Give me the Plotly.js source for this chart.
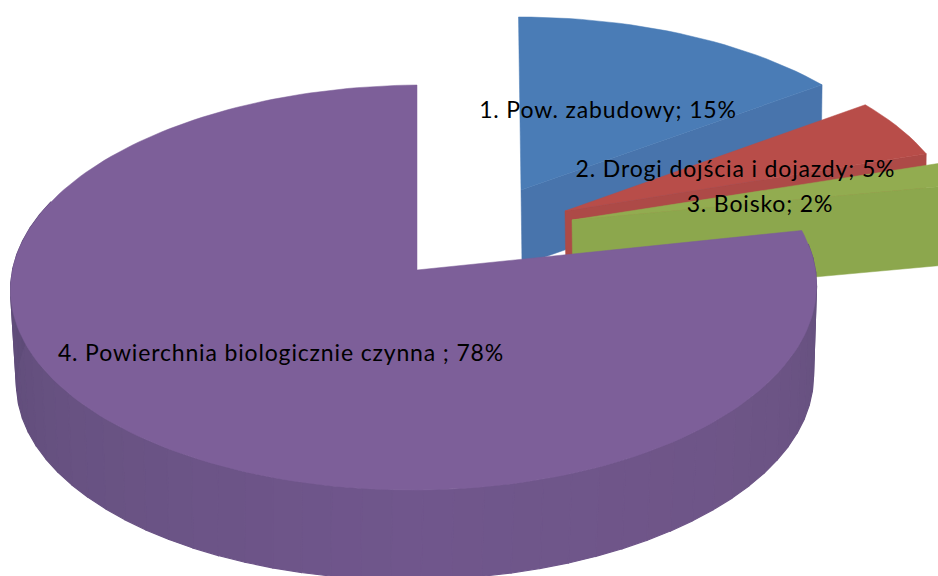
<!DOCTYPE html>
<html>
<head>
<meta charset="utf-8">
<script src="https://cdn.plot.ly/plotly-3.0.1.min.js"></script>
<style>html,body{margin:0;padding:0;background:#fff}#chart{width:938px;height:576px}
#chart .textpoint text{letter-spacing:0.85px}</style>
</head>
<body>
<div id="chart"></div>
<script>
// data
const categories = ['1. Pow. zabudowy', '2. Drogi dojścia i dojazdy', '3. Boisko', '4. Powierchnia biologicznie czynna '];
const shares = [15, 5, 2, 78];

// styles and 3D view
const topColors = ['#4A7CB6', '#B84D49', '#92AC50', '#7D5F99'];
const cutColors = ['#4874AC', '#AD4A47', '#8CA74D', '#6E5488'];
const centres = [[521, 190], [565, 211], [572, 220], [417, 270]];
const radiiX = [393, 390, 400, 401.5];
const radiiY = [188, 190, 190, 201];
const depths = [75, 70, 79, 0];
const shearX = [-2.5, 0, 0, 0];
const waistX = [0, 0, 0, -3.5];
const tiltY = [0, 0, 0, -2.5];
const labelX = [608, 735.5, 760, 281];
const labelY = [112, 171, 206, 355];
const persp = 0.0865;
const base = {cx: 415, cy: 363, rx: 397, ry: 198, skew: -4};
const sideStops = [[85, [100, 80, 125]], [130, [110, 85, 135]], [180, [112, 86, 140]], [230, [104, 82, 130]], [285, [92, 74, 118]]];

function project(a, cx, cy, rx, ry, skew, shear, waist) {
  const r = a * Math.PI / 180, u = Math.sin(r), v = Math.cos(r), d = 1 + persp * v;
  return [cx + rx * u / d + (shear || 0) * v + (waist || 0) * u * u, cy - ry * v / d + (skew || 0) * u];
}
function onSlice(a, i) {
  return project(a, centres[i][0], centres[i][1], radiiX[i], radiiY[i], tiltY[i], shearX[i], waistX[i]);
}
function poly(pts, color, width) {
  return {type: 'scatter', mode: 'lines', x: pts.map(p => p[0]), y: pts.map(p => p[1]),
    fill: 'toself', fillcolor: color, line: {color: color, width: width}, hoverinfo: 'skip', showlegend: false};
}
function shade(a) {
  for (let i = 0; i < sideStops.length - 1; i++) {
    const [a0, c0] = sideStops[i], [a1, c1] = sideStops[i + 1];
    if (a <= a1) {
      const t = Math.max(0, (a - a0) / (a1 - a0));
      return 'rgb(' + c0.map((c, k) => Math.round(c + (c1[k] - c) * t)).join(',') + ')';
    }
  }
  return 'rgb(' + sideStops[sideStops.length - 1][1].join(',') + ')';
}

const traces = [];
let start = 0;
const spans = shares.map(s => { const r = [start, start + s * 3.6]; start = r[1]; return r; });

// slices 1-3: cut face + top face
[0, 1, 2].forEach(i => {
  const [a0, a1] = spans[i], [cx, cy] = centres[i], dz = depths[i];
  const o = onSlice(a1, i);
  traces.push(poly([[cx, cy], o, [o[0] - 1, o[1] + dz], [cx + 1, cy + dz], [cx, cy]], cutColors[i], 0.5));
  const pts = [[cx, cy]];
  for (let a = a0; a <= a1 + 1e-6; a += 2) pts.push(onSlice(a, i));
  pts.push(o, [cx, cy]);
  traces.push(poly(pts, topColors[i], 0.5));
});

// slice 4: outer wall in bands, then top face
const [p0, p1] = spans[3], [pcx, pcy] = centres[3];
const wallEnd = 288, step = 4;
for (let a = p0 + 4; a < wallEnd; a += step) {
  const b = a + step;
  const t0 = onSlice(a, 3), t1 = onSlice(b, 3);
  const b0 = project(a, base.cx, base.cy, base.rx, base.ry, base.skew), b1 = project(b, base.cx, base.cy, base.rx, base.ry, base.skew);
  traces.push(poly([t0, t1, b1, b0, t0], shade(a), 1.2));
}
const face = [[pcx, pcy]];
for (let a = p0; a <= p1 + 1e-6; a += 1.5) face.push(onSlice(a, 3));
face.push(onSlice(360, 3), [pcx, pcy]);
traces.push(poly(face, topColors[3], 0.5));

// labels
traces.push({type: 'scatter', mode: 'text', x: labelX, y: labelY,
  text: categories.map((c, i) => c + '; ' + shares[i] + '%'),
  textposition: 'middle center', textfont: {family: 'Lato, "Open Sans", sans-serif', size: 23, color: '#000'},
  hoverinfo: 'skip', showlegend: false});

Plotly.newPlot('chart', traces, {
  width: 938, height: 576, margin: {l: 0, r: 0, t: 0, b: 0},
  paper_bgcolor: '#fff', plot_bgcolor: '#fff', showlegend: false, hovermode: false,
  xaxis: {range: [0, 938], visible: false, fixedrange: true},
  yaxis: {range: [576, 0], visible: false, fixedrange: true}
}, {displayModeBar: false, staticPlot: true});
</script>
</body>
</html>
